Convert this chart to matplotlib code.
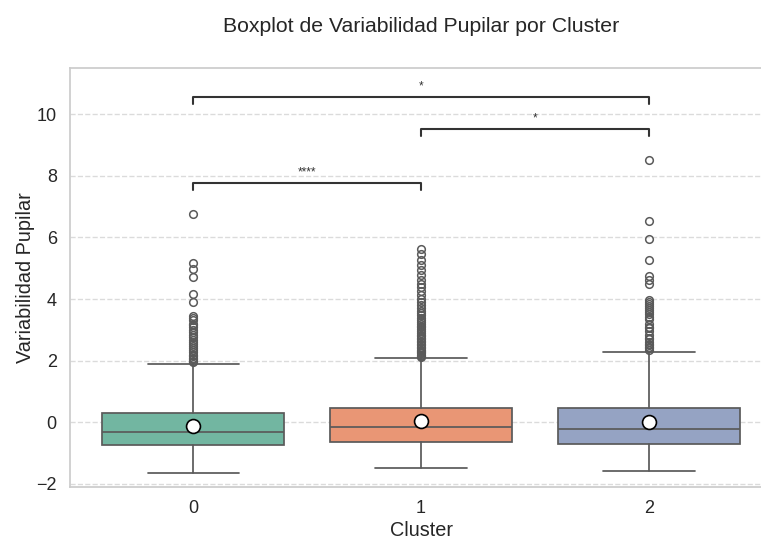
import matplotlib
matplotlib.use("Agg")
import matplotlib.pyplot as plt
import seaborn as sns

# resumen por cluster (cuartiles, bigotes, media)
clusters = ["0", "1", "2"]
q1 = [-0.75, -0.63, -0.71]
medians = [-0.30, -0.14, -0.22]
q3 = [0.31, 0.48, 0.48]
whisker_low = [-1.63, -1.47, -1.57]
whisker_high = [1.90, 2.10, 2.27]
means = [-0.11, 0.055, 0.02]

outliers_0 = [6.75, 5.17, 4.99, 4.71, 4.17, 3.91, 3.45, 3.40, 3.31, 3.20, 3.15, 3.08,
              3.01, 2.92, 2.85, 2.77, 2.68, 2.60, 2.55, 2.48, 2.40, 2.35, 2.28, 2.20,
              2.15, 2.10, 2.05, 2.00, 1.95]
outliers_1 = [5.62, 5.45, 5.28, 5.10, 4.95, 4.78, 4.62, 4.50, 4.38, 4.25, 4.12, 4.00,
              3.90, 3.80, 3.70, 3.62, 3.55, 3.48, 3.40, 3.33, 3.27, 3.20, 3.14, 3.08,
              3.02, 2.96, 2.90, 2.85, 2.80, 2.75, 2.70, 2.65, 2.60, 2.55, 2.50, 2.45,
              2.40, 2.36, 2.32, 2.28, 2.24, 2.20, 2.16, 2.13]
outliers_2 = [8.51, 6.52, 5.95, 5.28, 4.74, 4.61, 4.48, 3.98, 3.90, 3.85, 3.78, 3.72,
              3.65, 3.58, 3.50, 3.42, 3.35, 3.20, 3.10, 3.05, 2.95, 2.85, 2.75, 2.70,
              2.62, 2.55, 2.50, 2.45, 2.40, 2.36]
outliers = [outliers_0, outliers_1, outliers_2]

# comparaciones significativas: (grupo a, grupo b, etiqueta, altura)
sig_pairs = [(0, 1, "****", 7.53), (1, 2, "*", 9.29), (0, 2, "*", 10.32)]
bracket_h = 0.23

sns.set_theme(style="whitegrid")
plt.rcParams["font.family"] = ["Liberation Sans", "DejaVu Sans"]

fig = plt.figure(figsize=(7.61, 5.41), dpi=100)
ax = fig.add_axes([0.092, 0.0998, 0.9225, 0.7745])

palette = sns.color_palette("Set2", 3, desat=0.75)
line_c = "#5a5a5a"

stats = []
for i, name in enumerate(clusters):
    stats.append(dict(label=name, q1=q1[i], med=medians[i], q3=q3[i],
                      whislo=whisker_low[i], whishi=whisker_high[i],
                      mean=means[i], fliers=outliers[i]))

bp = ax.bxp(stats, positions=range(len(clusters)), widths=0.8, patch_artist=True,
            showmeans=True, manage_ticks=False,
            boxprops=dict(edgecolor=line_c, linewidth=1.25),
            medianprops=dict(color=line_c, linewidth=1.25),
            whiskerprops=dict(color=line_c, linewidth=1.25),
            capprops=dict(color=line_c, linewidth=1.25),
            flierprops=dict(marker="o", markerfacecolor="none", markeredgecolor=line_c,
                            markersize=5.5, markeredgewidth=1.1),
            meanprops=dict(marker="o", markerfacecolor="white", markeredgecolor="black",
                           markersize=10, markeredgewidth=1.2))
for patch, col in zip(bp["boxes"], palette):
    patch.set_facecolor(col)
for cap in bp["caps"]:
    x0, x1 = cap.get_xdata()
    mid = (x0 + x1) / 2
    cap.set_xdata([mid - 0.2, mid + 0.2])

for a, b, label, y in sig_pairs:
    ax.plot([a, a, b, b], [y, y + bracket_h, y + bracket_h, y],
            color="#333333", linewidth=1.5)
    ax.text((a + b) / 2, y + bracket_h + 0.15, label, ha="center", va="bottom",
            fontsize=8.5, color="#333333")

ax.set_xlim(-0.54, 2.54)
ax.set_ylim(-2.1, 11.5)
ax.set_xticks(range(len(clusters)))
ax.set_xticklabels(clusters)
ax.set_yticks([-2, 0, 2, 4, 6, 8, 10])
ax.tick_params(labelsize=13, colors="#262626")
ax.grid(axis="y", linestyle="--", alpha=0.7)
ax.grid(axis="x", visible=False)
for s in ax.spines.values():
    s.set_color("#cccccc")
    s.set_linewidth(1.25)

ax.set_xlabel("Cluster", fontsize=14.3, color="#262626", labelpad=3)
ax.set_ylabel("Variabilidad Pupilar", fontsize=14.3, color="#262626", labelpad=1)
fig.text(0.553, 0.951, "Boxplot de Variabilidad Pupilar por Cluster", ha="center",
         va="center", fontsize=15.3, color="#262626")

fig.savefig("out.png", dpi=100)
